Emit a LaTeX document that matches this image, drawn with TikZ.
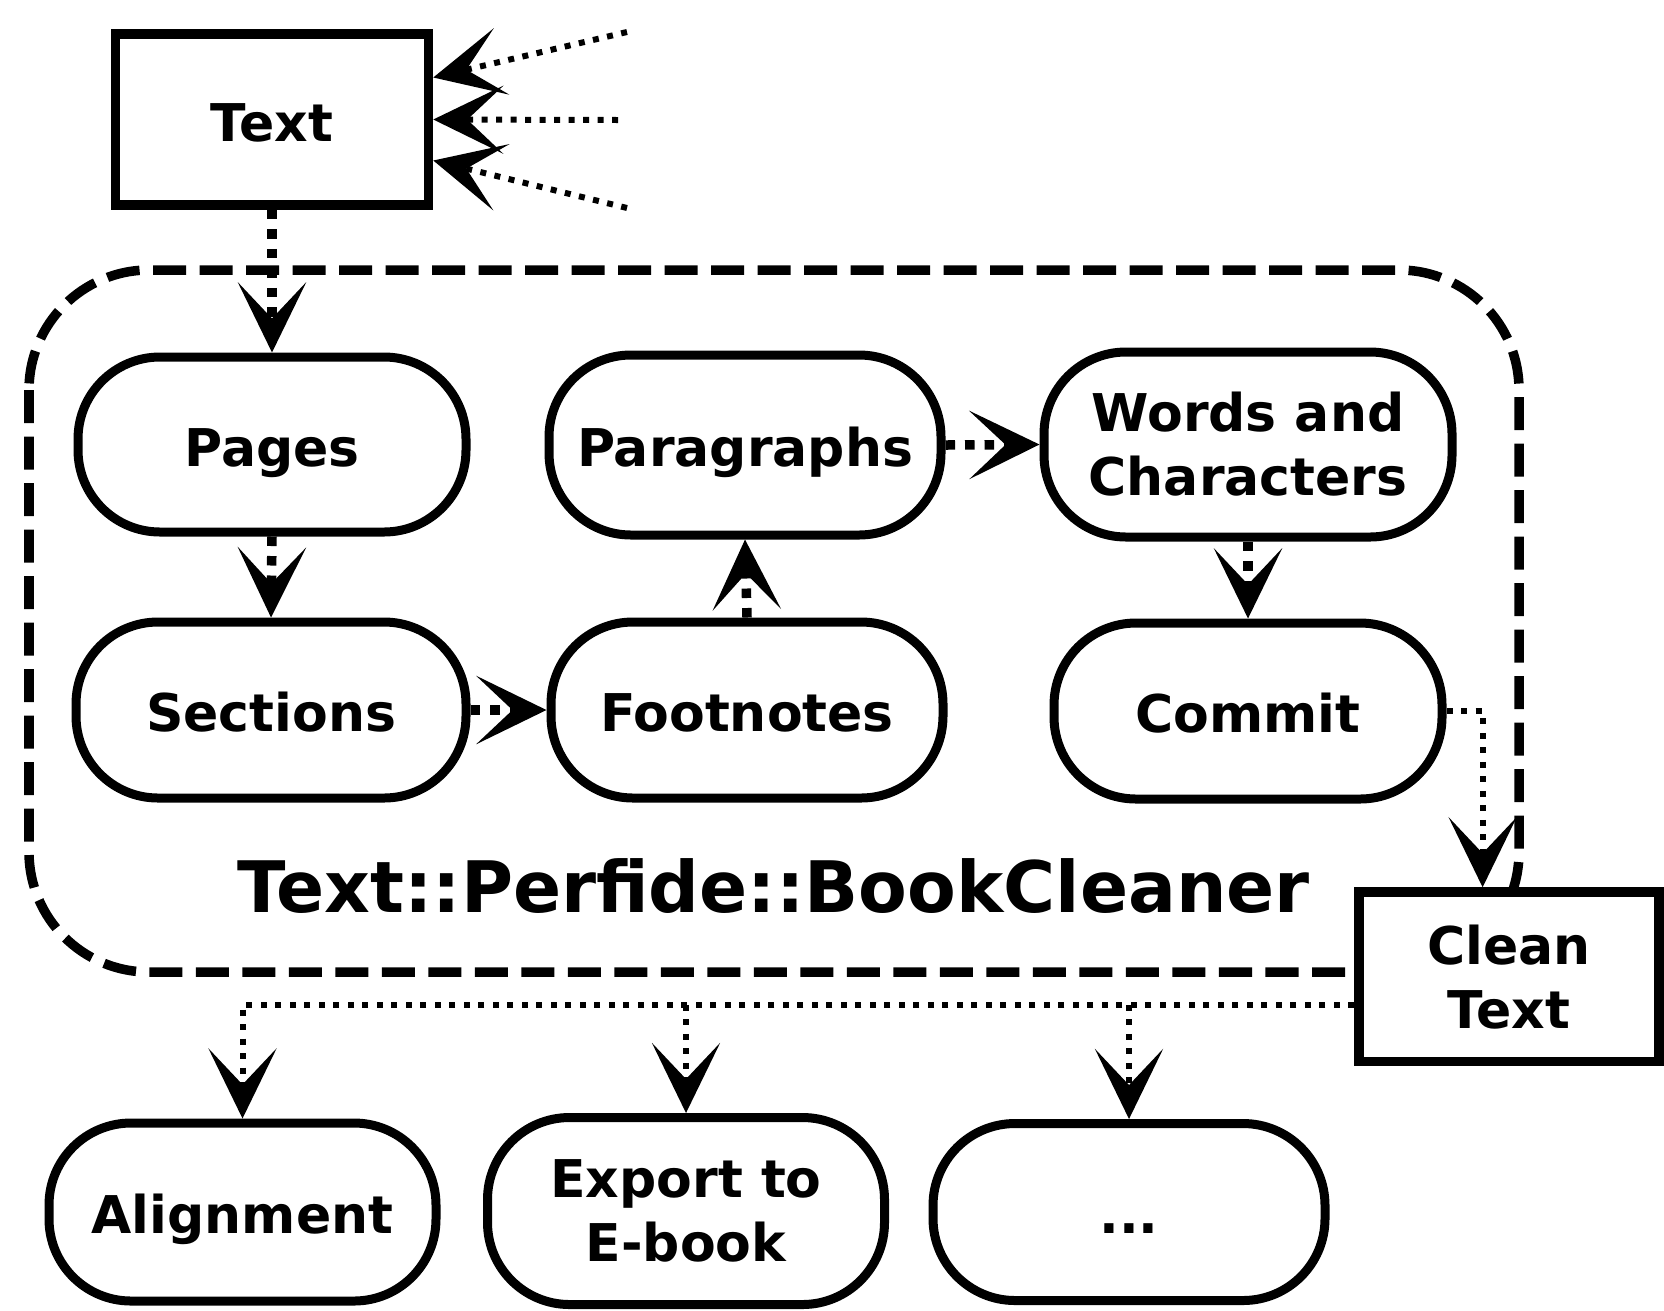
\documentclass[tikz,border=0pt]{standalone}
\usepackage{fontspec}
\setmainfont{DejaVu Sans}
\usetikzlibrary{arrows.meta,calc}
\newcommand\ndfont{\bfseries\fontsize{14.8}{18.2}\selectfont}
\newcommand\bigfont{\bfseries\fontsize{20.2}{24}\selectfont}
\tikzset{
  pill/.style={draw, line width=0.09cm, rounded corners=0.82cm, inner sep=0pt, align=center, font=\ndfont},
  boxnode/.style={draw, line width=0.095cm, fill=white, inner sep=0pt, align=center, font=\ndfont},
  oneline/.style={text height=12.4pt, text depth=0pt},
  arrowhd/.style={-{Stealth[length=0.7cm,width=0.68cm,inset=0.36cm]}},
  maindot/.style={arrowhd, line width=0.095cm, dash pattern=on 0.095cm off 0.1cm},
  thindot/.style={arrowhd, line width=0.06cm, dash pattern=on 0.06cm off 0.085cm},
  framestyle/.style={line width=0.095cm, dash pattern=on 0.33cm off 0.135cm, rounded corners=1.2cm},
}
\begin{document}
\begin{tikzpicture}
\useasboundingbox (0,0) rectangle (16.64,-13.10);
% dashed frame
\draw[framestyle] (0.29,-2.70) rectangle (15.19,-9.72);
\node[font=\bigfont, anchor=base, inner sep=0pt] (lbl) at (7.736,-9.12) {Text::Perfide::BookCleaner};
% nodes
\node[boxnode, oneline, minimum width=3.13cm, minimum height=1.71cm] (Text) at (2.72,-1.195) {Text};
\node[pill, oneline, minimum width=3.88cm, minimum height=1.75cm] (Pages) at (2.72,-4.445) {Pages};
\node[pill, oneline, minimum width=3.90cm, minimum height=1.76cm] (Sections) at (2.71,-7.10) {Sections};
\node[pill, oneline, minimum width=3.92cm, minimum height=1.80cm] (Paragraphs) at (7.45,-4.45) {Paragraphs};
\node[pill, oneline, minimum width=3.92cm, minimum height=1.76cm] (Footnotes) at (7.47,-7.10) {Footnotes};
\node[pill, minimum width=4.08cm, minimum height=1.85cm] (Words) at (12.48,-4.445) {Words and\\Characters};
\node[pill, oneline, minimum width=3.88cm, minimum height=1.76cm] (Commit) at (12.48,-7.11) {Commit};
\node[boxnode, minimum width=3.00cm, minimum height=1.695cm] (Clean) at (15.09,-9.7675) {Clean\\Text};
\node[pill, oneline, minimum width=3.87cm, minimum height=1.78cm] (Align) at (2.425,-12.12) {Alignment};
\node[pill, minimum width=3.97cm, minimum height=1.87cm] (Export) at (6.86,-12.11) {Export to\\E-book};
\node[pill, oneline, minimum width=3.92cm, minimum height=1.77cm] (Dots) at (11.29,-12.12) {...};
% incoming arrows
\coordinate (s1) at (6.27,-0.32);
\coordinate (s2) at (6.18,-1.20);
\coordinate (s3) at (6.27,-2.08);
\draw[thindot] (s1) -- ([yshift=0.42cm]Text.east);
\draw[thindot] (s2) -- (Text.east);
\draw[thindot] (s3) -- ([yshift=-0.41cm]Text.east);
% main flow
\draw[maindot] (Text.south) -- (Pages.north);
\draw[maindot] (Pages.south) -- (Sections.north);
\draw[maindot] (Sections.east) -- (Footnotes.west);
\draw[maindot] (Footnotes.north) -- (Paragraphs.south);
\draw[maindot] (Paragraphs.east) -- (Words.west);
\draw[maindot] (Words.south) -- (Commit.north);
\draw[thindot] (Commit.east) -| ([xshift=-0.264cm]Clean.north);
% outputs
\coordinate (cw) at ($(Clean.west)+(0,-0.28)$);
\draw[thindot] (cw) -| (Align.north);
\draw[thindot] (cw -| Export.north) -- (Export.north);
\draw[thindot] (cw -| Dots.north) -- (Dots.north);
\end{tikzpicture}
\end{document}
